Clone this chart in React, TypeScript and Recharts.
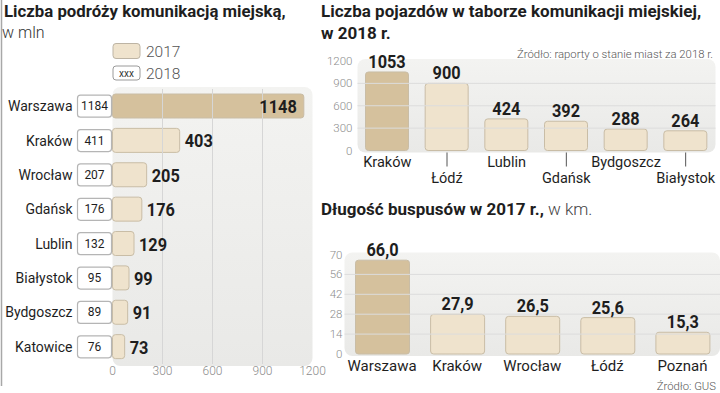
import React from 'react'
import {
  BarChart,
  Bar,
  XAxis,
  YAxis,
  Cell,
  LabelList,
  ReferenceArea,
  ReferenceLine,
} from 'recharts'

// Liczba podróży komunikacją miejską, w mln
const tripCities = ['Warszawa', 'Kraków', 'Wrocław', 'Gdańsk', 'Lublin', 'Białystok', 'Bydgoszcz', 'Katowice']
const trips2017 = [1148, 403, 205, 176, 129, 99, 91, 73]
const trips2018 = [1184, 411, 207, 176, 132, 95, 89, 76]
const tripTicks = [0, 300, 600, 900, 1200]

// Liczba pojazdów w taborze, 2018
const fleetCities = ['Kraków', 'Łódź', 'Lublin', 'Gdańsk', 'Bydgoszcz', 'Białystok']
const fleetValues = [1053, 900, 424, 392, 288, 264]
const fleetTicks = [0, 300, 600, 900, 1200]

// Długość buspusów w 2017 r., w km
const busCities = ['Warszawa', 'Kraków', 'Wrocław', 'Łódź', 'Poznań']
const busValues = [66.0, 27.9, 26.5, 25.6, 15.3]
const busTicks = [0, 14, 28, 42, 56, 70]

const FONT = 'Roboto, "Noto Sans", sans-serif'
const DARK = '#d5c19d'
const LIGHT = '#efe3cd'
const BAR_STROKE = '#c9bda6'
const TEXT = '#1e1e1e'
const AXIS_TEXT = '#8c8c8c'

const tripData = tripCities.map((city, i) => ({ city, v2017: trips2017[i], v2018: trips2018[i] }))
const fleetData = fleetCities.map((city, i) => ({ city, value: fleetValues[i] }))
const busData = busCities.map((city, i) => ({ city, value: busValues[i] }))

const bgShape = (id: string) => (p: any) => (
  <rect x={p.x} y={p.y - 2} width={p.width} height={p.height + 4} rx={8} fill={`url(#${id})`} />
)

function BgGradient({ id }: { id: string }) {
  return (
    <defs>
      <linearGradient id={id} x1="0" y1="0" x2="0" y2="1">
        <stop offset="0%" stopColor="#f3f3f1" />
        <stop offset="100%" stopColor="#e9e9e7" />
      </linearGradient>
    </defs>
  )
}

// bold, narrowed number like the condensed face of the original
function NumText({ x, y, anchor, children }: { x: number; y: number; anchor: 'start' | 'middle' | 'end'; children: any }) {
  return (
    <text
      transform={`translate(${x},${y}) scale(0.86,1)`}
      textAnchor={anchor}
      fontSize={19}
      fontWeight={700}
      fill={TEXT}
      fontFamily={FONT}
    >
      {children}
    </text>
  )
}

function CityTick(props: any) {
  const { x, y, payload, index } = props
  return (
    <g>
      <text x={x - 40} y={y} textAnchor="end" dominantBaseline="central" fontSize={14} fill={TEXT} fontFamily={FONT}>
        {payload.value}
      </text>
      <rect x={x - 35} y={y - 11} width={34} height={22} rx={3} fill="#fff" stroke="#b5b5b5" strokeWidth={1.2} />
      <text x={x - 18} y={y} textAnchor="middle" dominantBaseline="central" fontSize={12} fill={TEXT} fontFamily={FONT}>
        {trips2018[index]}
      </text>
    </g>
  )
}

function TripLabel(props: any) {
  const { x, y, width, height, value, index } = props
  const inside = index === 0
  return (
    <NumText x={inside ? x + width - 7 : x + width + 5} y={y + height / 2 + 7} anchor={inside ? 'end' : 'start'}>
      {value}
    </NumText>
  )
}

const topLabel = (fmt: (v: number) => string) => (props: any) => {
  const { x, y, width, value } = props
  return (
    <NumText x={x + width / 2} y={y - 4} anchor="middle">
      {fmt(Number(value))}
    </NumText>
  )
}

function FleetTick(props: any) {
  const { x, y, payload, index } = props
  const low = index % 2 === 1
  return (
    <g>
      {low && <line x1={x} x2={x} y1={y + 2} y2={y + 16} stroke="#555" strokeWidth={1} />}
      <text x={x} y={low ? y + 32 : y + 16} textAnchor="middle" fontSize={14.5} fill={TEXT} fontFamily={FONT}>
        {payload.value}
      </text>
    </g>
  )
}

export default function App() {
  return (
    <div style={{ position: 'absolute', left: 0, top: 0, width: 720, height: 393, background: '#fff', fontFamily: FONT }}>
      {/* left: trips */}
      <div style={{ position: 'absolute', left: 0, top: 0 }}>
        <BarChart
          width={720}
          height={393}
          data={tripData}
          layout="vertical"
          margin={{ top: 89, right: 407.5, bottom: 9, left: 0 }}
          barSize={24}
        >
          <BgGradient id="bgTrips" />
          <XAxis
            type="number"
            domain={[0, 1200]}
            ticks={tripTicks}
            interval={0}
            height={20}
            tickSize={0}
            tickMargin={2}
            axisLine={false}
            tick={{ fill: AXIS_TEXT, fontSize: 12, fontFamily: FONT, fontWeight: 300 }}
          />
          <YAxis
            type="category"
            dataKey="city"
            width={112.5}
            interval={0}
            tickSize={0}
            tickMargin={0}
            axisLine={false}
            tick={<CityTick />}
          />
          <ReferenceArea x1={0} x2={1200} shape={bgShape('bgTrips')} />
          {tripTicks.slice(1, -1).map((t) => (
            <ReferenceLine key={t} x={t} stroke="#d6d6d6" />
          ))}
          <Bar dataKey="v2017" isAnimationActive={false} radius={3} stroke={BAR_STROKE} strokeWidth={1}>
            {tripData.map((d, i) => (
              <Cell key={d.city} fill={i === 0 ? DARK : LIGHT} />
            ))}
            <LabelList dataKey="v2017" content={TripLabel} />
          </Bar>
        </BarChart>
      </div>

      {/* right top: fleet */}
      <div style={{ position: 'absolute', left: 0, top: 0 }}>
        <BarChart
          width={720}
          height={393}
          data={fleetData}
          margin={{ top: 61, right: 4.5, bottom: 202.5, left: 310 }}
          barSize={43}
        >
          <BgGradient id="bgFleet" />
          <XAxis
            dataKey="city"
            interval={0}
            height={40}
            tickSize={0}
            tickMargin={0}
            axisLine={false}
            tick={<FleetTick />}
          />
          <YAxis
            type="number"
            domain={[0, 1200]}
            ticks={fleetTicks}
            interval={0}
            width={47.5}
            tickSize={0}
            tickMargin={5}
            axisLine={false}
            tick={{ fill: AXIS_TEXT, fontSize: 11.5, fontFamily: FONT, fontWeight: 300 }}
          />
          <ReferenceArea y1={0} y2={1200} shape={bgShape('bgFleet')} />
          {fleetTicks.slice(1, -1).map((t) => (
            <ReferenceLine key={t} y={t} stroke="#dcdcdc" />
          ))}
          <Bar dataKey="value" isAnimationActive={false} radius={3} stroke={BAR_STROKE} strokeWidth={1}>
            {fleetData.map((d, i) => (
              <Cell key={d.city} fill={i === 0 ? DARK : LIGHT} />
            ))}
            <LabelList dataKey="value" content={topLabel((v) => String(v))} />
          </Bar>
        </BarChart>
      </div>

      {/* right bottom: bus lanes */}
      <div style={{ position: 'absolute', left: 0, top: 0 }}>
        <BarChart
          width={720}
          height={393}
          data={busData}
          margin={{ top: 254.5, right: 0, bottom: 9, left: 310 }}
          barSize={54}
        >
          <BgGradient id="bgBus" />
          <XAxis
            dataKey="city"
            interval={0}
            height={30}
            tickSize={0}
            tickMargin={6}
            axisLine={false}
            tick={{ fill: TEXT, fontSize: 15, fontFamily: FONT }}
          />
          <YAxis
            type="number"
            domain={[0, 70]}
            ticks={busTicks}
            interval={0}
            width={34.5}
            tickSize={0}
            tickMargin={2}
            axisLine={false}
            tick={{ fill: AXIS_TEXT, fontSize: 11.5, fontFamily: FONT, fontWeight: 300 }}
          />
          <ReferenceArea y1={0} y2={70} shape={bgShape('bgBus')} />
          {busTicks.slice(1, -1).map((t) => (
            <ReferenceLine key={t} y={t} stroke="#dcdcdc" />
          ))}
          <Bar dataKey="value" isAnimationActive={false} radius={3} stroke={BAR_STROKE} strokeWidth={1}>
            {busData.map((d, i) => (
              <Cell key={d.city} fill={i === 0 ? DARK : LIGHT} />
            ))}
            <LabelList dataKey="value" content={topLabel((v) => v.toFixed(1).replace('.', ','))} />
          </Bar>
        </BarChart>
      </div>

      {/* titles, legend, sources */}
      <svg width={720} height={393} style={{ position: 'absolute', left: 0, top: 0, pointerEvents: 'none' }} fontFamily={FONT}>
        <line x1={1.5} x2={1.5} y1={0} y2={386} stroke="#a8a8a8" strokeWidth={1.5} />
        <text x={4} y={17} fontSize={16.8} fontWeight={700} fill={TEXT}>
          Liczba podróży komunikacją miejską,
        </text>
        <text x={2} y={38} fontSize={16} fontWeight={300} fill="#333">
          w mln
        </text>
        <rect x={113} y={43.5} width={27} height={15} rx={3} fill={LIGHT} stroke="#bdb4a4" />
        <text x={146} y={57} fontSize={15.5} fontWeight={300} fill="#555">
          2017
        </text>
        <rect x={113} y={66} width={27} height={14} rx={3} fill="#fff" stroke="#9a9a9a" />
        <text x={126.5} y={76.5} fontSize={10} textAnchor="middle" fill="#333">
          xxx
        </text>
        <text x={146} y={79} fontSize={15.5} fontWeight={300} fill="#555">
          2018
        </text>

        <text x={321} y={17} fontSize={17} fontWeight={700} fill={TEXT}>
          Liczba pojazdów w taborze komunikacji miejskiej,
        </text>
        <text x={321} y={39} fontSize={17} fontWeight={700} fill={TEXT}>
          w 2018 r.
        </text>
        <text x={713} y={58} fontSize={11.3} fontWeight={300} textAnchor="end" fill="#555">
          Źródło: raporty o stanie miast za 2018 r.
        </text>

        <text x={321} y={215} fontSize={17} fill={TEXT}>
          <tspan fontWeight={700}>Długość buspusów w 2017 r.,</tspan>
          <tspan fontWeight={300} fill="#444"> w km.</tspan>
        </text>
        <text x={716} y={390} fontSize={11.3} fontWeight={300} textAnchor="end" fill="#555">
          Źródło: GUS
        </text>
      </svg>
    </div>
  )
}
